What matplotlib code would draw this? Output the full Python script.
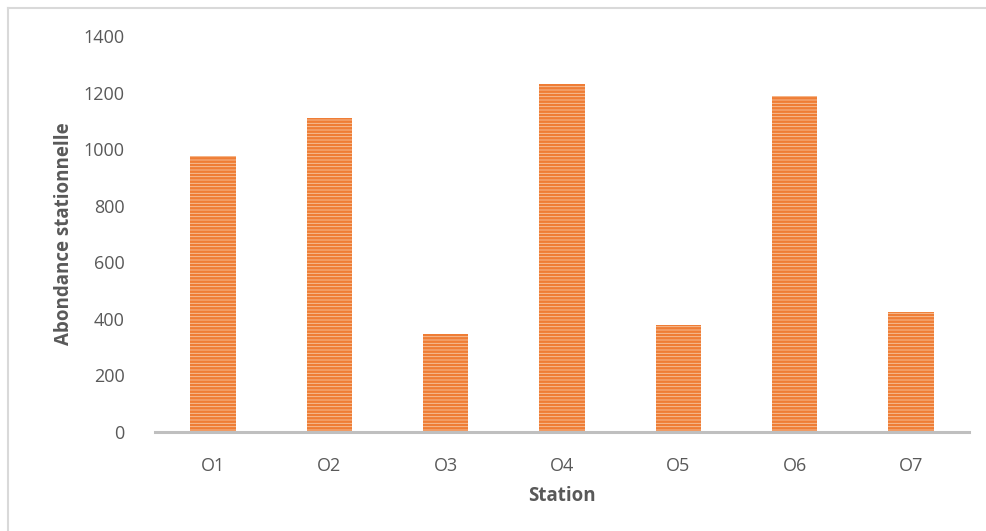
import matplotlib.pyplot as plt
from matplotlib.lines import Line2D

# abondance par station
stations = ['O1', 'O2', 'O3', 'O4', 'O5', 'O6', 'O7']
abondance = [976, 1110, 346, 1230, 378, 1188, 424]
yticks = [0, 200, 400, 600, 800, 1000, 1200, 1400]

plt.rcParams['font.family'] = ['Open Sans', 'DejaVu Sans']
plt.rcParams['hatch.linewidth'] = 1.8

fig = plt.figure(figsize=(9.87, 5.31), dpi=100)
ax = fig.add_axes([155 / 987, 1 - 432 / 531, (969 - 155) / 987, (432 - 36) / 531])

ax.bar(stations, abondance, width=0.39, color='#F8C7A3', edgecolor='#EF7D35',
       hatch='-----', linewidth=0)

ax.set_xlim(-0.5, 6.5)
ax.set_ylim(0, 1400)
ax.set_yticks(yticks)
for s in ['top', 'right', 'left']:
    ax.spines[s].set_visible(False)
ax.spines['bottom'].set_color('#BFBFBF')
ax.spines['bottom'].set_linewidth(2.2)
ax.tick_params(axis='both', length=0, labelsize=13, labelcolor='#595959')
ax.tick_params(axis='y', pad=22)
ax.tick_params(axis='x', pad=18)

ax.set_ylabel('Abondance stationnelle', fontsize=13.5, fontweight='bold', color='#595959', labelpad=7)
ax.set_xlabel('Station', fontsize=13.5, fontweight='bold', color='#595959', labelpad=8)

# cadre du graphique
fig.add_artist(Line2D([8 / 987, 1], [1 - 8 / 531, 1 - 8 / 531], color='#D9D9D9', lw=1.5))
fig.add_artist(Line2D([8 / 987, 8 / 987], [0, 1 - 8 / 531], color='#D9D9D9', lw=1.5))

fig.savefig('out.png', dpi=100)
